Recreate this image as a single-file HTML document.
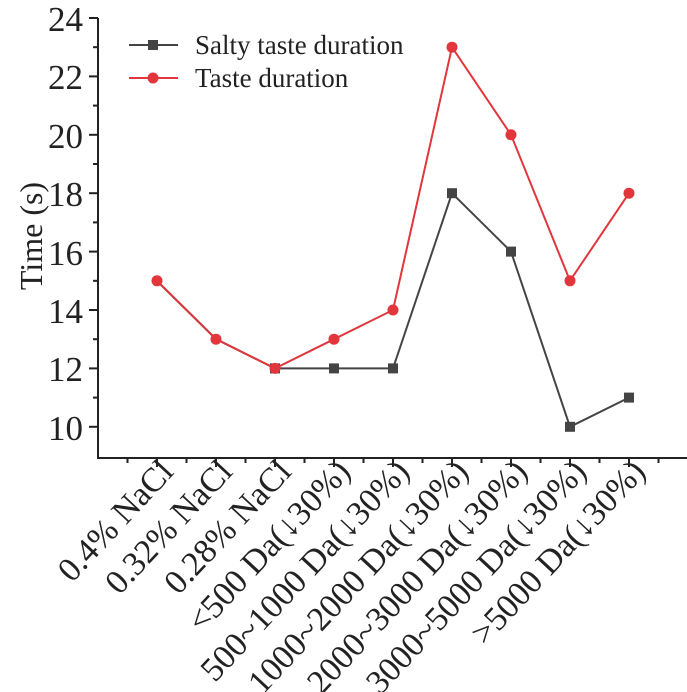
<!DOCTYPE html>
<html><head><meta charset="utf-8"><style>body{margin:0;background:#fff}svg{display:block}text{font-family:"Liberation Serif",serif;fill:#222}</style></head><body>
<svg width="687" height="692" viewBox="0 0 687 692">
<g stroke="#222" stroke-width="2" fill="none">
<line x1="98" y1="18" x2="98" y2="459"/>
<line x1="97" y1="458" x2="687" y2="458"/>
</g>
<g stroke="#222" stroke-width="2">
<line x1="89" y1="18" x2="98" y2="18"/><line x1="89" y1="76.4" x2="98" y2="76.4"/><line x1="89" y1="134.8" x2="98" y2="134.8"/><line x1="89" y1="193.2" x2="98" y2="193.2"/><line x1="89" y1="251.6" x2="98" y2="251.6"/><line x1="89" y1="310" x2="98" y2="310"/><line x1="89" y1="368.4" x2="98" y2="368.4"/><line x1="89" y1="426.8" x2="98" y2="426.8"/>
<line x1="93" y1="47.2" x2="98" y2="47.2"/><line x1="93" y1="105.6" x2="98" y2="105.6"/><line x1="93" y1="164" x2="98" y2="164"/><line x1="93" y1="222.4" x2="98" y2="222.4"/><line x1="93" y1="280.8" x2="98" y2="280.8"/><line x1="93" y1="339.2" x2="98" y2="339.2"/><line x1="93" y1="397.6" x2="98" y2="397.6"/>
</g>
<g stroke="#222" stroke-width="2">
<line x1="157" y1="458" x2="157" y2="467"/><line x1="216" y1="458" x2="216" y2="467"/><line x1="275" y1="458" x2="275" y2="467"/><line x1="334" y1="458" x2="334" y2="467"/><line x1="393" y1="458" x2="393" y2="467"/><line x1="452" y1="458" x2="452" y2="467"/><line x1="511" y1="458" x2="511" y2="467"/><line x1="570" y1="458" x2="570" y2="467"/><line x1="629" y1="458" x2="629" y2="467"/>
<line x1="127.5" y1="458" x2="127.5" y2="463"/><line x1="186.5" y1="458" x2="186.5" y2="463"/><line x1="245.5" y1="458" x2="245.5" y2="463"/><line x1="304.5" y1="458" x2="304.5" y2="463"/><line x1="363.5" y1="458" x2="363.5" y2="463"/><line x1="422.5" y1="458" x2="422.5" y2="463"/><line x1="481.5" y1="458" x2="481.5" y2="463"/><line x1="540.5" y1="458" x2="540.5" y2="463"/><line x1="599.5" y1="458" x2="599.5" y2="463"/><line x1="658.5" y1="458" x2="658.5" y2="463"/>
</g>
<g font-size="35" text-anchor="end">
<text x="83" y="31">24</text><text x="83" y="89">22</text><text x="83" y="148">20</text><text x="83" y="206">18</text><text x="83" y="265">16</text><text x="83" y="323">14</text><text x="83" y="381">12</text><text x="83" y="440">10</text>
</g>
<text transform="translate(42,236) rotate(-90)" font-size="32" text-anchor="middle">Time (s)</text>
<g font-size="34" text-anchor="end">
<text transform="translate(175,473) rotate(-47)">0.4% NaCl</text>
<text transform="translate(234,473) rotate(-47)">0.32% NaCl</text>
<text transform="translate(293,473) rotate(-47)">0.28% NaCl</text>
<text transform="translate(352,473) rotate(-47)">&lt;500 Da(↓30%)</text>
<text transform="translate(411,473) rotate(-47)">500~1000 Da(↓30%)</text>
<text transform="translate(470,473) rotate(-47)">1000~2000 Da(↓30%)</text>
<text transform="translate(529,473) rotate(-47)">2000~3000 Da(↓30%)</text>
<text transform="translate(588,473) rotate(-47)">3000~5000 Da(↓30%)</text>
<text transform="translate(647,473) rotate(-47)">&gt;5000 Da(↓30%)</text>
</g>
<polyline fill="none" stroke="#444" stroke-width="2" points="157,281 216,339 275,368.4 334,368.4 393,368.4 452,193.2 511,251.6 570,426.8 629,397.6"/>
<g fill="#444">
<rect x="270" y="363.4" width="10" height="10"/><rect x="329" y="363.4" width="10" height="10"/><rect x="388" y="363.4" width="10" height="10"/><rect x="447" y="188.2" width="10" height="10"/><rect x="506" y="246.6" width="10" height="10"/><rect x="565" y="421.8" width="10" height="10"/><rect x="624" y="392.6" width="10" height="10"/>
</g>
<polyline fill="none" stroke="#e0363c" stroke-width="2" points="157,280.8 216,339.2 275,368.4 334,339.2 393,310 452,47.2 511,134.8 570,280.8 629,193.2"/>
<g fill="#e0363c">
<circle cx="157" cy="280.8" r="5.5"/><circle cx="216" cy="339.2" r="5.5"/><circle cx="275" cy="368.4" r="5.5"/><circle cx="334" cy="339.2" r="5.5"/><circle cx="393" cy="310" r="5.5"/><circle cx="452" cy="47.2" r="5.5"/><circle cx="511" cy="134.8" r="5.5"/><circle cx="570" cy="280.8" r="5.5"/><circle cx="629" cy="193.2" r="5.5"/>
</g>
<line x1="129" y1="45" x2="178" y2="45" stroke="#444" stroke-width="2"/><rect x="148" y="40" width="10" height="10" fill="#444"/>
<line x1="129" y1="78" x2="178" y2="78" stroke="#e0363c" stroke-width="2"/><circle cx="153" cy="78" r="5.5" fill="#e0363c"/>
<g font-size="27"><text x="195" y="54">Salty taste duration</text><text x="195" y="87">Taste duration</text></g>
</svg>
</body></html>
